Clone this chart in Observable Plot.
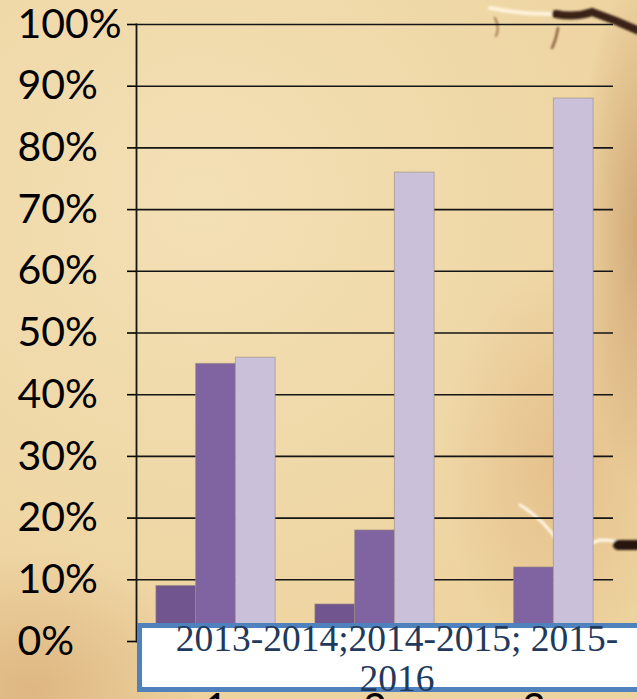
<!DOCTYPE html>
<html>
<head>
<meta charset="utf-8">
<script src="https://cdn.jsdelivr.net/npm/d3@7"></script>
<script src="https://cdn.jsdelivr.net/npm/@observablehq/plot@0.6"></script>
<style>
  html, body { margin: 0; padding: 0; width: 637px; height: 699px; overflow: hidden; }
  body {
    background:
      url("data:image/svg+xml;utf8,<svg xmlns='http://www.w3.org/2000/svg' width='637' height='699'><filter id='b'><feGaussianBlur stdDeviation='1.2'/></filter><g filter='url(%23b)' fill='none' stroke-linecap='round'><path d='M490 8 Q520 14 552 14' stroke='%23fff3dc' stroke-width='4'/><path d='M556 14 Q575 18 592 12 Q615 20 637 30' stroke='%233b2014' stroke-width='8'/><path d='M558 28 Q556 40 552 48' stroke='%238a6040' stroke-width='2.5'/><path d='M495 18 Q500 28 496 36' stroke='%23a07850' stroke-width='2'/><path d='M520 505 Q545 520 560 545 Q580 548 600 540 Q615 540 637 545' stroke='%23fff8e8' stroke-width='3'/><path d='M560 545 Q568 555 570 565' stroke='%23fff8e8' stroke-width='2'/><path d='M618 545 L637 545' stroke='%23281408' stroke-width='10'/></g></svg>") no-repeat,
      radial-gradient(ellipse 70px 260px at 645px 230px, rgba(175,115,65,0.5), rgba(175,115,65,0) 100%),
      radial-gradient(ellipse 120px 200px at 560px 460px, rgba(215,160,105,0.4), rgba(215,160,105,0) 100%),
      radial-gradient(ellipse 180px 140px at 30px 690px, rgba(200,140,85,0.4), rgba(200,140,85,0) 100%),
      radial-gradient(ellipse 500px 500px at 200px 200px, #F3E0B5, #EDD39F 100%);
  }
  #wrap { position: relative; width: 637px; height: 699px; }
  #chart svg { display: block; background: transparent; }
  #legendBox {
    position: absolute; left: 137px; top: 623px; width: 520px; height: 59px;
    background: #fff; border: 5px solid #4F81BD;
  }
  #legendText {
    position: absolute; left: 137px; top: 619px; width: 520px;
    text-align: center; font-family: "Liberation Serif", "DejaVu Serif", serif;
    font-size: 37.5px; line-height: 40px; color: #1F3A5C; white-space: nowrap;
  }
</style>
</head>
<body>
<div id="wrap">
  <div id="chart"></div>
  <div id="legendBox"></div>
  <div id="legendText">2013-2014;2014-2015; 2015-<br>2016</div>
</div>
<script>
const groups = ["1", "2", "3"];
const series = ["2013-2014", "2014-2015", "2015-2016"];
const seriesA = [0.09, 0.06, 0.00];
const seriesB = [0.45, 0.18, 0.12];
const seriesC = [0.46, 0.76, 0.88];
const colors = ["#71558F", "#8064A2", "#CBC0DA"];
const yTicks = [0, 0.1, 0.2, 0.3, 0.4, 0.5, 0.6, 0.7, 0.8, 0.9, 1.0];

const seriesValues = [seriesA, seriesB, seriesC];
const key = (g, s) => g + "|" + s;
const data = [];
groups.forEach((g, i) => series.forEach((s, j) => data.push({key: key(g, s), group: g, series: s, value: seriesValues[j][i]})));
const domain = [];
groups.forEach((g, i) => {
  if (i > 0) domain.push(key(g, "gap"));
  series.forEach(s => domain.push(key(g, s)));
});

const chart = Plot.plot({
  width: 637,
  height: 699,
  marginLeft: 136,
  marginRight: 24,
  marginTop: 24,
  marginBottom: 58,
  style: {fontFamily: "Lato, sans-serif", fontSize: "41px", color: "#000", background: "transparent", overflow: "visible"},
  x: {type: "band", domain, paddingInner: 0, paddingOuter: 0.5, round: false, label: null},
  y: {domain: [0, 1], label: null},
  color: {domain: series, range: colors},
  marks: [
    Plot.ruleY(yTicks, {stroke: "#151515", strokeWidth: 1.6}),
    Plot.barY(data, {x: "key", y: "value", fill: "series", stroke: "#9a8c80", strokeOpacity: 0.6, strokeWidth: 1}),
    Plot.frame({anchor: "left", stroke: "#151515", strokeWidth: 1.8}),
    Plot.axisY({ticks: yTicks, tickFormat: d3.format(".0%"), tickSize: 9, tickPadding: 110, textAnchor: "start", strokeWidth: 1.6, fontSize: 41, label: null}),
    Plot.axisX({ticks: groups.map(g => key(g, series[1])), tickFormat: k => k.split("|")[0], tickSize: 0, tickPadding: 51, fontSize: 41, label: null})
  ]
});
document.getElementById("chart").appendChild(chart);
</script>
</body>
</html>
